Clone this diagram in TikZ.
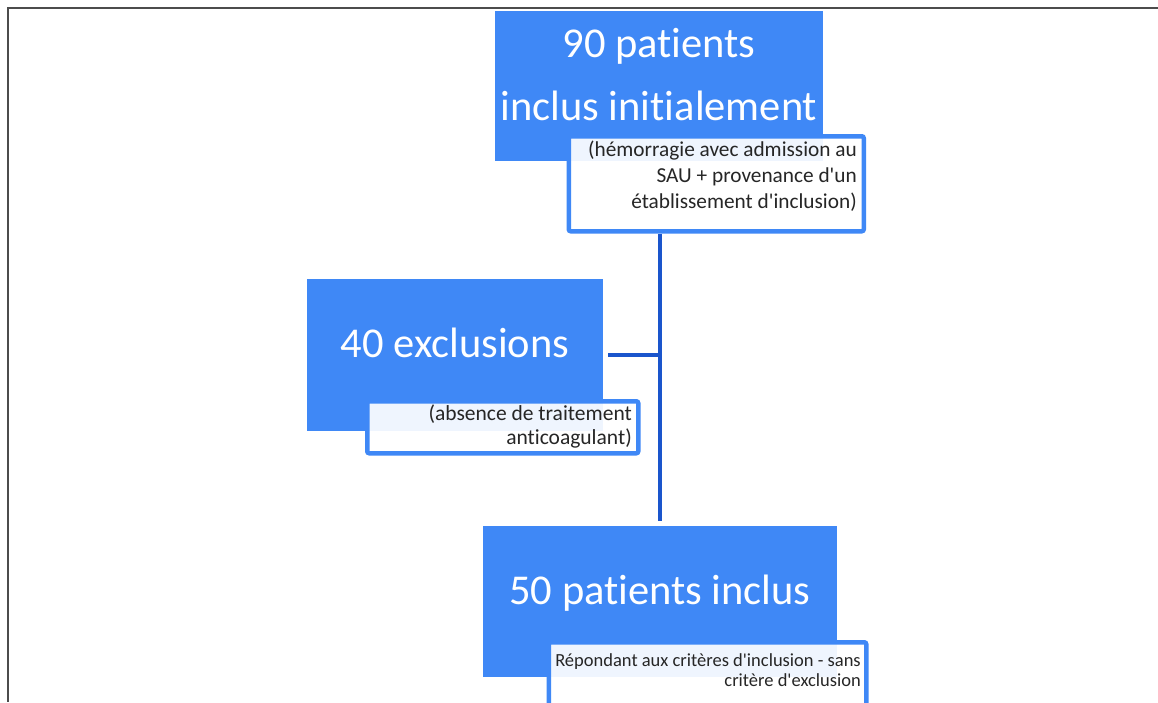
\documentclass[tikz,border=0pt]{standalone}
\usepackage{fontspec}
\setmainfont{Carlito}[Ligatures={TeXOff,CommonOff}]
\definecolor{boxblue}{HTML}{3F88F6}
\definecolor{linkblue}{HTML}{1A55CC}
\definecolor{notetext}{HTML}{262626}
\begin{document}
\begin{tikzpicture}[x=1pt,y=-1pt,
  mainbox/.style={draw=none,fill=boxblue,anchor=north west,inner sep=0pt},
  notebox/.style={draw=boxblue,line width=4.5pt,rounded corners=2pt,fill=white,fill opacity=0.92,
    anchor=north west,inner sep=0pt},
  maintext/.style={text=white,anchor=base,inner sep=0pt,font=\fontsize{42.5}{50}\selectfont},
  notetext/.style={text=notetext,anchor=north east,inner sep=0pt,align=right},
  link/.style={draw=linkblue,line width=4.5pt}]
\clip (0,0) rectangle (1158,702);
\fill[white] (0,0) rectangle (1158,702);
% page frame (top and left edges)
\draw[gray!60!black,line width=2pt] (1158,8) -- (8,8) -- (8,702);

% first stage: initial inclusion
\node[mainbox,minimum width=328pt,minimum height=150pt] (b1) at (495,11) {};
\node[maintext] (b1a) at (659,57) {90 patients};
\node[maintext] (b1b) at (659,120) {inclus initialement};
\node[notebox,minimum width=295pt,minimum height=95pt] (n1) at (566.5,134) {};
\node[notetext,font=\fontsize{21.3}{26}\selectfont] (n1t) at (857,141)
  {(hémorragie avec admission au\\SAU + provenance d'un\\établissement d'inclusion)};

% exclusions
\node[mainbox,minimum width=296pt,minimum height=152pt] (b2) at (307,279) {};
\node[maintext] (b2a) at (455,357) {40 exclusions};
\node[notebox,minimum width=271pt,minimum height=52pt] (n2) at (365,399) {};
\node[notetext,font=\fontsize{21.5}{24}\selectfont] (n2t) at (632,404.5)
  {(absence de traitement\\anticoagulant)};

% final cohort
\node[mainbox,minimum width=354pt,minimum height=151pt] (b3) at (483,526) {};
\node[maintext] (b3a) at (660,604) {50 patients inclus};
\node[notebox,minimum width=317.5pt,minimum height=90pt] (n3) at (546.5,640) {};
\node[notetext,font=\fontsize{18.5}{20}\selectfont] (n3t) at (861,653.5)
  {Répondant aux critères d'inclusion - sans\\critère d'exclusion};

% connectors
\coordinate (jn) at (660,355);
\coordinate (end) at (660,521);
\draw[link] (n1.south -| jn) -- (end);
\draw[link] ([xshift=5pt]b2.east |- jn) -- (jn);
\end{tikzpicture}
\end{document}
